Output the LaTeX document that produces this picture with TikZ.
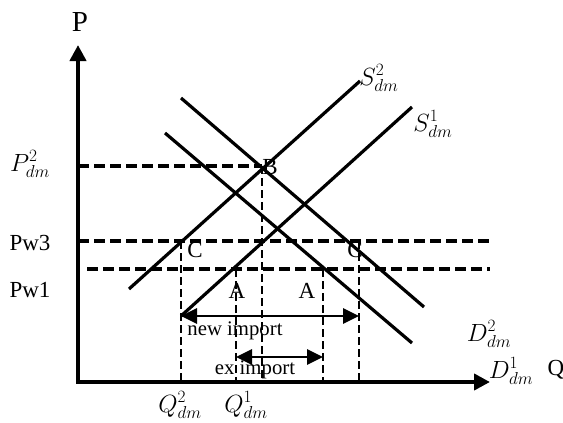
\documentclass[tikz,border=0pt]{standalone}
\usepackage{fontspec}
\setmainfont{Liberation Serif}
\usetikzlibrary{arrows.meta}
\tikzset{
  axisline/.style={line width=4pt,-{Triangle[length=16pt,width=16pt]}},
  curve/.style={line width=3.2pt},
  hdash/.style={line width=3.2pt,dash pattern=on 11pt off 5pt},
  vdash/.style={line width=2.2pt,dash pattern=on 8pt off 4pt},
  imparrow/.style={line width=2.8pt,{Triangle[length=16pt,width=15pt]}-{Triangle[length=16pt,width=15pt]}},
  lbl/.style={inner sep=0pt,font=\fontsize{23}{26}\selectfont},
  mlbl/.style={inner sep=0pt,font=\fontsize{24}{28}\selectfont},
  tlbl/.style={inner sep=0pt,font=\fontsize{20.74}{24}\selectfont},
}
\begin{document}
\begin{tikzpicture}[x=1pt,y=-1pt]
\useasboundingbox (0,0) rectangle (563,423);
% axes
\coordinate (O) at (78,382);
\coordinate (Ytop) at (78,45);
\coordinate (Xend) at (490,382);
% key points
\coordinate (B) at (262,166);
\coordinate (PB) at (78,166);
\coordinate (Pw3l) at (78,241);
\coordinate (Pw3r) at (490,241);
\coordinate (Pw1l) at (87,269);
\coordinate (Pw1r) at (490,269);
\coordinate (CL) at (181,241);
\coordinate (CR) at (359,241);
\coordinate (AL) at (236,269);
\coordinate (AR) at (323,269);
\coordinate (CLb) at (181,382);
\coordinate (CRb) at (359,382);
\coordinate (ALb) at (236,382);
\coordinate (ARb) at (323,382);
\coordinate (Bb) at (262,382);
% curves
\coordinate (S2a) at (129,289);
\coordinate (S2b) at (360,81);
\coordinate (S1a) at (181,316);
\coordinate (S1b) at (412,107);
\coordinate (D1a) at (165,133);
\coordinate (D1b) at (412,343);
\coordinate (D2a) at (181,98);
\coordinate (D2b) at (424,307);
% import arrows
\coordinate (NIl) at (181,316);
\coordinate (NIr) at (359,316);
\coordinate (EIl) at (236,357);
\coordinate (EIr) at (323,357);

% dashed lines
\draw[hdash] (PB) -- (B);
\draw[hdash] (Pw3l) -- (Pw3r);
\draw[hdash] (Pw1l) -- (Pw1r);
\draw[vdash] (B) -- (Bb);
\draw[vdash] (CL) -- (CLb);
\draw[vdash] (CR) -- (CRb);
\draw[vdash] (AL) -- (ALb);
\draw[vdash] (AR) -- (ARb);

% supply and demand
\draw[curve] (S2a) -- (S2b);
\draw[curve] (S1a) -- (S1b);
\draw[curve] (D1a) -- (D1b);
\draw[curve] (D2a) -- (D2b);

% import arrows
\draw[imparrow] (NIl) -- (NIr);
\draw[imparrow] (EIl) -- (EIr);

% axes
\draw[axisline] (O) -- (Ytop);
\draw[axisline] ([xshift=-2pt]O) -- (Xend);

% labels
\node[lbl,font=\fontsize{29}{32}\selectfont] (lP) at (80,22) {P};
\node[lbl] (lQ) at (556,370) {Q};
\node[mlbl] (lP2) at (30,164) {$P^2_{dm}$};
\node[lbl] (lPw3) at (30,243) {Pw3};
\node[lbl] (lPw1) at (30,290) {Pw1};
\node[mlbl] (lQ2) at (180,405) {$Q^2_{dm}$};
\node[mlbl] (lQ1) at (246,405) {$Q^1_{dm}$};
\node[lbl] (lB) at (270,167) {B};
\node[lbl] (lCL) at (195,250) {C};
\node[lbl] (lCR) at (355,250) {C};
\node[lbl] (lAL) at (237,291) {A};
\node[lbl] (lAR) at (307,291) {A};
\node[tlbl] (lNI) at (235,331) {new import};
\node[tlbl] (lEI) at (255,370) {ex import};
\node[mlbl] (lD2) at (489,334) {$D^2_{dm}$};
\node[mlbl] (lD1) at (511,371) {$D^1_{dm}$};
\node[mlbl] (lS2) at (379,78) {$S^2_{dm}$};
\node[mlbl] (lS1) at (433,124) {$S^1_{dm}$};
\end{tikzpicture}
\end{document}
